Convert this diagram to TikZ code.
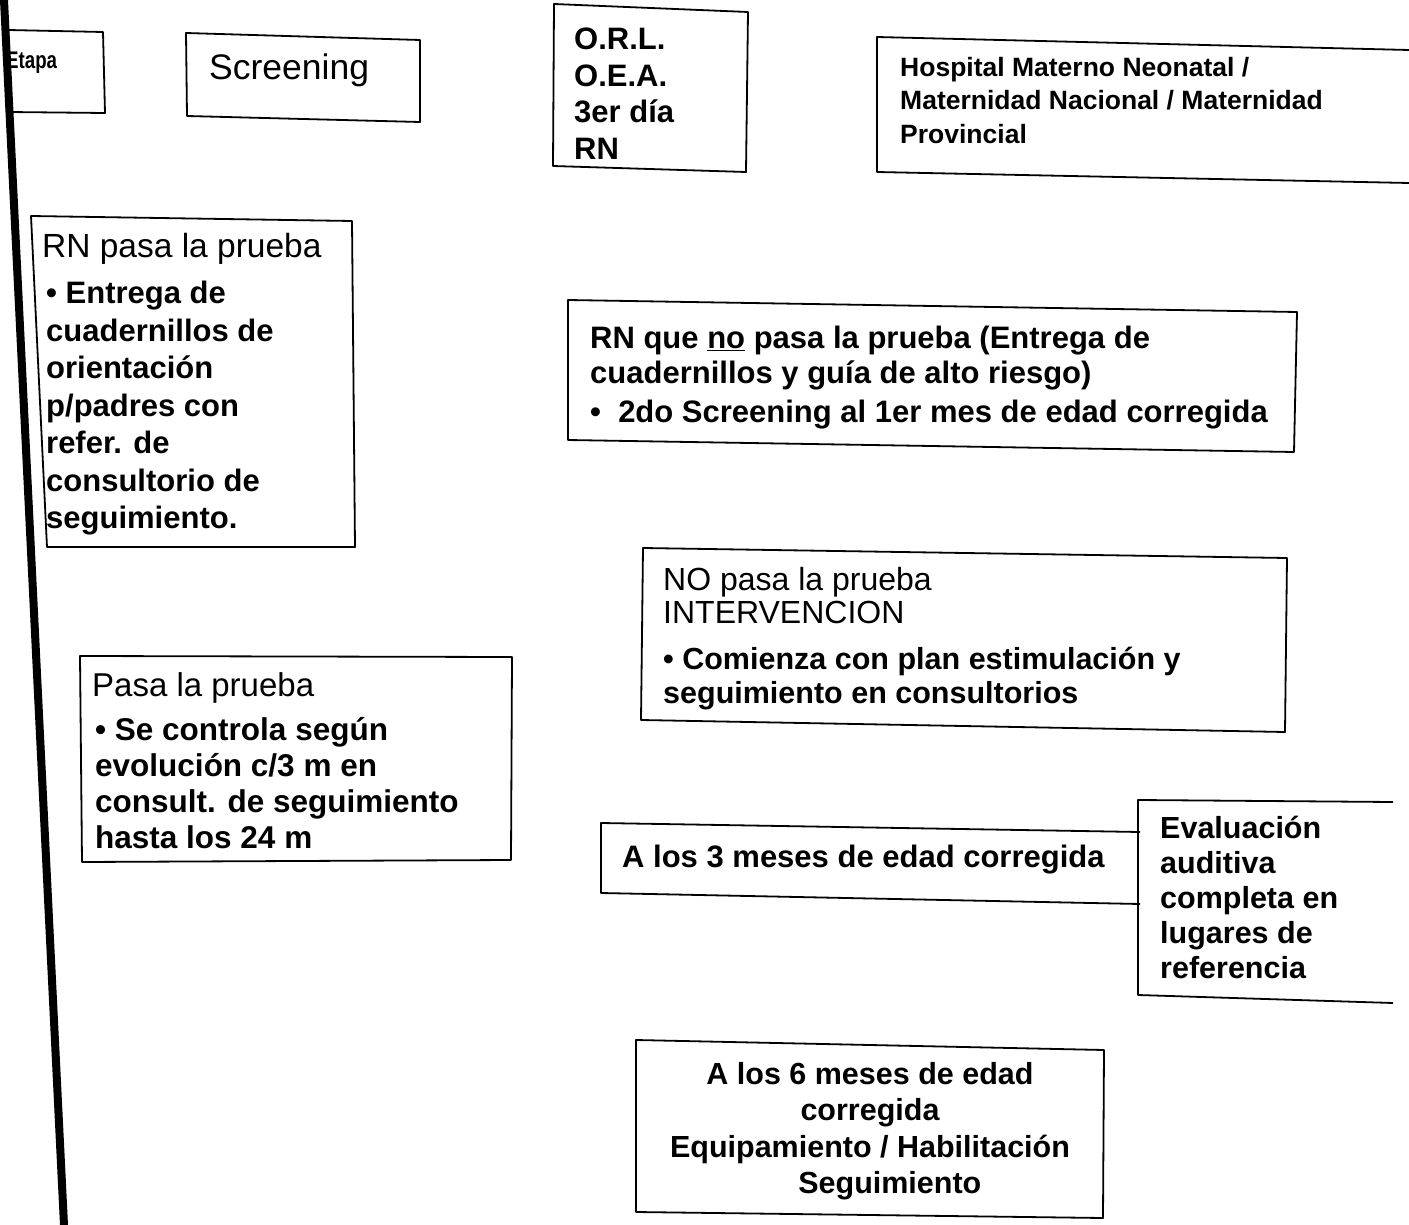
\documentclass[tikz,border=0pt]{standalone}
\usepackage{fontspec}
\setmainfont{Liberation Sans}
\tikzset{
  boxline/.style={draw=black, line width=1.8pt, line join=round},
  txt/.style={inner sep=0pt, anchor=north west, align=left},
}
\begin{document}
\begin{tikzpicture}[x=1pt,y=-1pt]
\useasboundingbox[fill=white] (0,0) rectangle (1409,1225);
% boxes
\draw[boxline] (8,30) -- (103,32) -- (105,113) -- (8,112);
\draw[boxline] (186,33) -- (420,40) -- (420,122) -- (187,116) -- cycle;
\draw[boxline] (554,4) -- (748,12) -- (746,172) -- (553,166) -- cycle;
\draw[boxline] (1409,50) -- (877,37) -- (877,172) -- (1409,183);
\draw[boxline] (31,216) -- (352,221) -- (355,547) -- (47,547) -- cycle;
\draw[boxline] (568,300) -- (1297,312) -- (1294,452) -- (568,440) -- cycle;
\draw[boxline] (643,548) -- (1287,558) -- (1285,732) -- (641,720) -- cycle;
\draw[boxline] (80,656) -- (512,657) -- (511,860) -- (82,862) -- cycle;
\draw[boxline] (1140,832) -- (601,823) -- (601,893) -- (1140,904);
\draw[boxline] (1393,802) -- (1138,800) -- (1138,995) -- (1393,1003);
\draw[boxline] (636,1040) -- (1104,1050) -- (1103,1218) -- (636,1212) -- cycle;
% texts
\node[txt, anchor=west, font={\fontsize{24}{28}\selectfont\bfseries}, xscale=0.78] (etapa) at (6,63) {Etapa};
\node[txt, anchor=west, font={\fontsize{35.5}{40}\selectfont}] (scr) at (209,70) {Screening};
\node[txt, font={\fontsize{31}{36.5}\selectfont\bfseries}] (orl) at (574,28) {O.R.L.\\O.E.A.\\3er día\\RN};
\node[txt, font={\fontsize{26.5}{33.5}\selectfont\bfseries}] (hosp) at (900,57) {Hospital Materno Neonatal /\\Maternidad Nacional / Maternidad\\Provincial};
\node[txt, font={\fontsize{33.5}{37}\selectfont}] (rnph) at (42,233) {RN pasa la prueba};
\node[txt, font={\fontsize{31}{37.5}\selectfont\bfseries}] (rnpb) at (46,281) {\textbullet\ Entrega de\\cuadernillos de\\orientación\\p/padres con\\refer. de\\consultorio de\\seguimiento.};
\node[txt, font={\fontsize{31}{34.5}\selectfont\bfseries}] (rnno) at (590,326) {RN que \underline{no} pasa la prueba (Entrega de\\cuadernillos y guía de alto riesgo)\\[5pt]\textbullet\ \ 2do Screening al 1er mes de edad corregida};
\node[txt, font={\fontsize{32}{33}\selectfont}] (noph) at (663,567) {NO pasa la prueba\\INTERVENCION};
\node[txt, font={\fontsize{30.5}{34}\selectfont\bfseries}] (nopb) at (663,647) {\textbullet\ Comienza con plan estimulación y\\seguimiento en consultorios};
\node[txt, font={\fontsize{33}{36}\selectfont}] (pash) at (92,672) {Pasa la prueba};
\node[txt, font={\fontsize{31.5}{36}\selectfont\bfseries}] (pasb) at (95,717) {\textbullet\ Se controla según\\evolución c/3 m en\\consult. de seguimiento\\hasta los 24 m};
\node[txt, anchor=west, font={\fontsize{31}{36}\selectfont\bfseries}] (tres) at (622,860) {A los 3 meses de edad corregida};
\node[txt, font={\fontsize{30.5}{35}\selectfont\bfseries}] (eval) at (1160,816) {Evaluación\\auditiva\\completa en\\lugares de\\referencia};
\node[txt, anchor=north, align=center, font={\fontsize{30.5}{36.5}\selectfont\bfseries}] (seis) at (870,1062) {A los 6 meses de edad\\corregida\\Equipamiento / Habilitación\\\hspace*{1.3em}Seguimiento};
% thick left line
\draw[line width=8pt] (4,0) -- (64,1225);
\end{tikzpicture}
\end{document}
